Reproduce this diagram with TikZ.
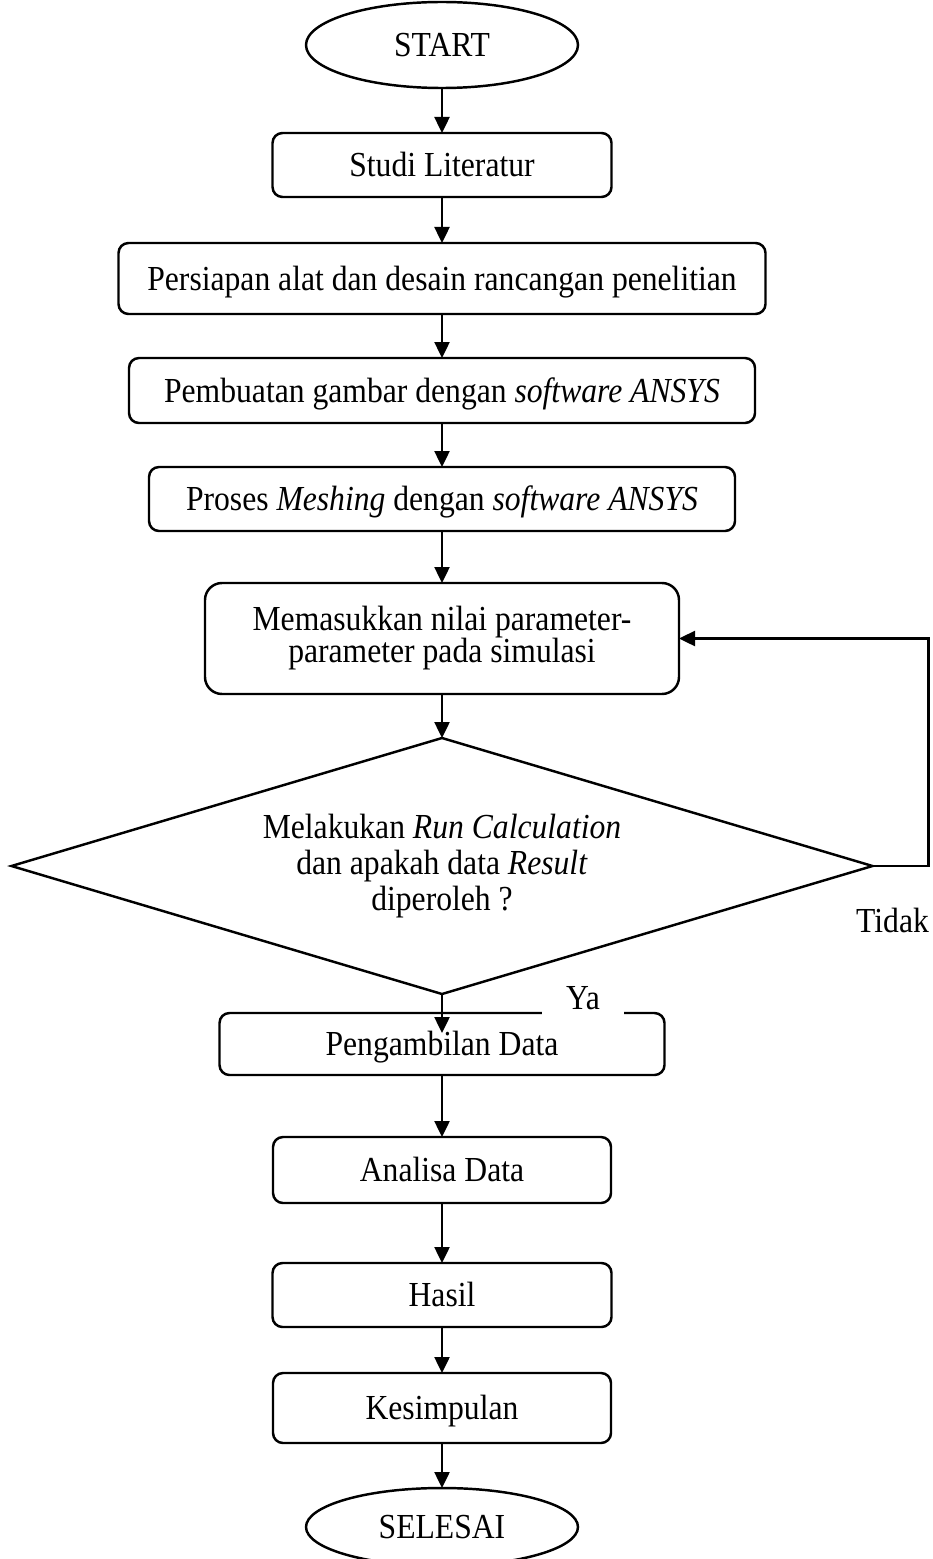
\documentclass[tikz,border=0pt]{standalone}
\usepackage{fontspec}
\setmainfont{Liberation Serif}[FakeStretch=0.9]
\usetikzlibrary{positioning,shapes.geometric,arrows.meta}

\begin{document}
\begin{tikzpicture}[
  font=\fontsize{10pt}{9.1pt}\selectfont,
  node distance=0.45cm,
  terminal/.style={
    ellipse,
    draw,
    line width=0.7pt,
    minimum width=2.72cm,
    minimum height=0.86cm,
    inner sep=0pt,
    outer sep=0pt
  },
  stepbox/.style={
    rectangle,
    draw,
    line width=0.7pt,
    rounded corners=0.1cm,
    minimum height=0.64cm,
    text height=0.23cm,
    text depth=0pt,
    inner sep=0pt,
    outer sep=0pt
  },
  paramblock/.style={
    rectangle,
    draw,
    line width=0.7pt,
    rounded corners=0.17cm,
    minimum width=4.74cm,
    minimum height=1.11cm,
    align=center,
    inner sep=0pt,
    outer sep=0pt
  },
  decision/.style={
    diamond,
    draw,
    line width=0.7pt,
    shape aspect=3.36,
    minimum width=8.61cm,
    minimum height=2.56cm,
    align=center,
    inner sep=0pt,
    outer sep=0pt,
    font=\fontsize{10pt}{10.2pt}\selectfont
  },
  answer/.style={
    fill=white,
    inner xsep=0.245cm,
    inner ysep=0pt,
    minimum height=0.4cm,
    text height=0.23cm,
    text depth=0pt
  },
  flow/.style={
    -{Triangle[length=0.16cm,width=0.15cm]},
    line width=0.7pt
  }]
  \useasboundingbox (0,0) rectangle (9.33,-15.59);
  % top part
  \node[terminal] (start) at (4.42,-0.45) {START};
  \node[stepbox, minimum width=3.39cm, below=of start] (studi) {Studi Literatur};
  \node[stepbox, minimum width=6.47cm, minimum height=0.71cm, below=0.46cm of studi] (siap) {Persiapan alat dan desain rancangan penelitian};
  \node[stepbox, minimum width=6.26cm, minimum height=0.65cm, below=0.44cm of siap] (gambar) {Pembuatan gambar dengan \textit{software ANSYS}};
  \node[stepbox, minimum width=5.86cm, below=0.44cm of gambar] (mesh) {Proses \textit{Meshing} dengan \textit{software ANSYS}};
  \node[paramblock, below=0.52cm of mesh] (masuk) {Memasukkan nilai parameter-\\parameter pada simulasi};
  % decision
  \node[decision, below=0.44cm of masuk] (cek) {Melakukan \textit{Run Calculation}\\dan apakah data \textit{Result}\\diperoleh ?};
  % bottom part
  \node[stepbox, minimum width=4.45cm, minimum height=0.62cm, below=0.19cm of cek] (ambil) {Pengambilan Data};
  \node[stepbox, minimum width=3.38cm, minimum height=0.66cm, below=0.62cm of ambil] (analisa) {Analisa Data};
  \node[stepbox, minimum width=3.39cm, below=0.60cm of analisa] (hasil) {Hasil};
  \node[stepbox, minimum width=3.38cm, minimum height=0.70cm, below=0.46cm of hasil] (simpul) {Kesimpulan};
  \node[terminal, minimum height=0.78cm, below=of simpul] (selesai) {SELESAI};
  % labels
  \node[answer] (ya) at ([xshift=1.41cm,yshift=0.15cm]ambil.north) {Ya};
  \coordinate (balik) at ([xshift=0.56cm]cek.east);
  \coordinate (yatip) at ([yshift=-0.2cm]ambil.north);
  \node (tidak) at ([xshift=-0.36cm,yshift=-0.54cm]balik) {Tidak};
  % arrows
  \draw[flow] (start) -- (studi);
  \draw[flow] (studi) -- (siap);
  \draw[flow] (siap) -- (gambar);
  \draw[flow] (gambar) -- (mesh);
  \draw[flow] (mesh) -- (masuk);
  \draw[flow] (masuk) -- (cek);
  \draw[flow] (cek.south) -- (yatip);
  \draw[flow] (cek.east) -- (balik) |- (masuk.east);
  \draw[flow] (ambil) -- (analisa);
  \draw[flow] (analisa) -- (hasil);
  \draw[flow] (hasil) -- (simpul);
  \draw[flow] (simpul) -- (selesai);
\end{tikzpicture}
\end{document}
